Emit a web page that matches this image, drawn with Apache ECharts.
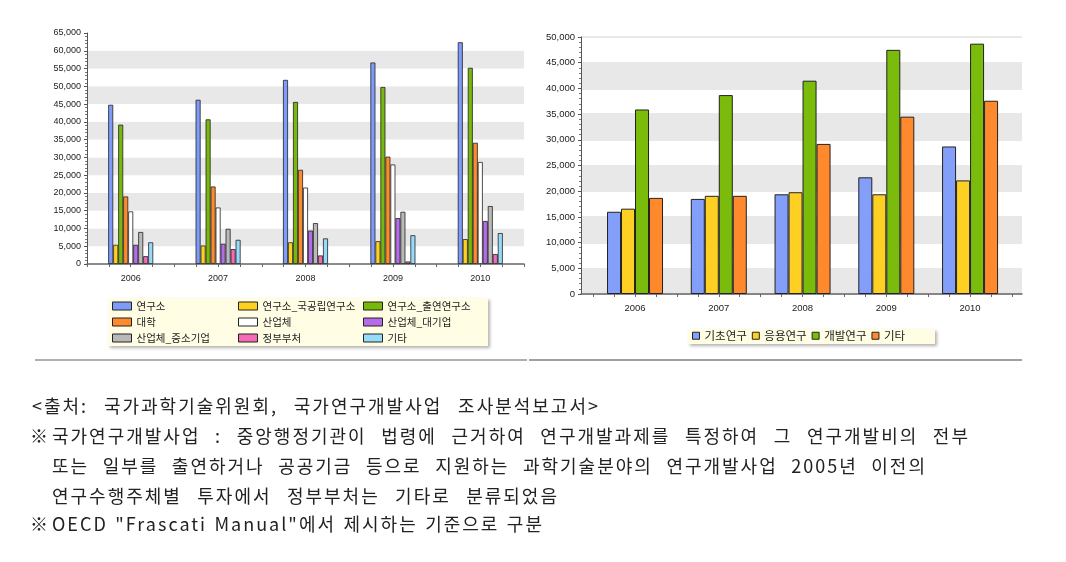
<!DOCTYPE html>
<html>
<head>
<meta charset="utf-8">
<script src="https://cdn.jsdelivr.net/npm/echarts@6/dist/echarts.min.js"></script>
<style>
  html, body { margin: 0; padding: 0; background: #fff; }
  #main { position: absolute; left: 0; top: 0; width: 1066px; height: 562px; }
  .note { position: absolute; font-family: 'Noto Sans CJK KR'; font-size: 18px; line-height: 22px;
          letter-spacing: 2px; color: #222; text-align: justify; text-align-last: justify; }
</style>
</head>
<body>
<div id="main"></div>
<!-- 출처 / 주석 -->
<div class="note" style="left:32px; top:394px; width:568px;">&lt;출처: 국가과학기술위원회, 국가연구개발사업 조사분석보고서&gt;</div>
<div class="note" style="left:30px; top:424px;">※</div>
<div class="note" style="left:52px; top:424px; width:918px;">국가연구개발사업 : 중앙행정기관이 법령에 근거하여 연구개발과제를 특정하여 그 연구개발비의 전부</div>
<div class="note" style="left:52px; top:454px; width:875px;">또는 일부를 출연하거나 공공기금 등으로 지원하는 과학기술분야의 연구개발사업 2005년 이전의</div>
<div class="note" style="left:52px; top:484px; width:507px;">연구수행주체별 투자에서 정부부처는 기타로 분류되었음</div>
<div class="note" style="left:30px; top:512px;">※</div>
<div class="note" style="left:52px; top:512px; width:492px;">OECD "Frascati Manual"에서 제시하는 기준으로 구분</div>

<script>
  // 연도
  const years = [2006, 2007, 2008, 2009, 2010];

  // 왼쪽: 연구수행주체별 (억원)
  const performerNames = ['연구소', '연구소_국공립연구소', '연구소_출연연구소', '대학', '산업체',
    '산업체_대기업', '산업체_중소기업', '정부부처', '기타'];
  const researchInst = [44800, 46200, 51800, 56700, 62400];
  const publicInst = [5400, 5200, 6100, 6400, 7000];
  const fundedInst = [39200, 40700, 45600, 49800, 55200];
  const university = [19000, 21800, 26500, 30200, 34100];
  const industry = [14800, 15900, 21500, 28000, 28700];
  const largeFirm = [5400, 5700, 9400, 12900, 12100];
  const smallFirm = [9000, 9900, 11500, 14700, 16300];
  const government = [2200, 4200, 2400, 700, 2800];
  const otherPerformer = [6100, 6800, 7200, 8100, 8700];
  const performerValues = [researchInst, publicInst, fundedInst, university, industry,
    largeFirm, smallFirm, government, otherPerformer];
  const performerColors = ['#7f9bfa', '#ffd020', '#78b80c', '#ff8a2e', '#ffffff',
    '#b46cea', '#b9b9b9', '#f46ab6', '#96dcfa'];

  // 오른쪽: 연구개발단계별
  const stageNames = ['기초연구', '응용연구', '개발연구', '기타'];
  const basicRes = [16000, 18500, 19400, 22700, 28700];
  const appliedRes = [16600, 19100, 19800, 19400, 22100];
  const develRes = [35900, 38700, 41500, 47500, 48700];
  const otherStage = [18700, 19100, 29200, 34500, 37600];
  const stageValues = [basicRes, appliedRes, develRes, otherStage];
  const stageColors = ['#849ffa', '#ffd024', '#7bbb0c', '#ff8a2e'];

  // x축 작은 눈금 (1/4 간격)
  const quarterTicks = [];
  for (let t = 2005.5; t <= 2010.5; t += 0.25) quarterTicks.push(t);

  const pairs = vals => years.map((y, i) => [y, vals[i]]);

  let myChart = echarts.init(document.getElementById('main'));

  const leftSeries = performerNames.map((name, k) => ({
    name: name,
    type: 'bar',
    xAxisIndex: 0,
    yAxisIndex: 0,
    barWidth: 5,
    barGap: '0%',
    itemStyle: { color: performerColors[k], borderColor: '#222', borderWidth: 0.8 },
    data: pairs(performerValues[k])
  }));
  const rightSeries = stageNames.map((name, k) => ({
    name: name,
    type: 'bar',
    xAxisIndex: 1,
    yAxisIndex: 1,
    barWidth: 14,
    barGap: '0%',
    itemStyle: { color: stageColors[k], borderColor: '#222', borderWidth: 1 },
    data: pairs(stageValues[k])
  }));

  const yLabel = { fontSize: 9, color: '#222', fontFamily: 'Liberation Sans', margin: 6 };
  const xLabel = { fontSize: 9, color: '#222', fontFamily: 'Liberation Sans', customValues: years,
    formatter: v => String(v) };
  const legendCommon = {
    orient: 'vertical', padding: 0, itemGap: 0, itemWidth: 19, itemHeight: 8,
    icon: 'rect', selectedMode: false,
    itemStyle: { borderColor: '#222', borderWidth: 1 },
    textStyle: { fontSize: 10.5, color: '#222', fontFamily: 'Noto Sans CJK KR', lineHeight: 16 }
  };

  myChart.setOption({
    animation: false,
    grid: [
      { left: 87, top: 33, width: 437, height: 231 },
      { left: 581, top: 37, width: 441, height: 257 }
    ],
    xAxis: [
      {
        type: 'value', gridIndex: 0, min: 2005.5, max: 2010.5,
        axisLine: { lineStyle: { color: '#666', width: 1.5 } },
        axisTick: { customValues: quarterTicks, length: 3, lineStyle: { color: '#666' } },
        axisLabel: Object.assign({ margin: 10 }, xLabel),
        splitLine: { show: false }
      },
      {
        type: 'value', gridIndex: 1, min: 2005.355, max: 2010.62,
        axisLine: { lineStyle: { color: '#666', width: 1.5 } },
        axisTick: { customValues: quarterTicks, length: 3, lineStyle: { color: '#666' } },
        axisLabel: Object.assign({ margin: 9 }, xLabel, { fontSize: 9.5 }),
        splitLine: { show: false }
      }
    ],
    yAxis: [
      {
        type: 'value', gridIndex: 0, min: 0, max: 65000, interval: 5000,
        axisLine: { show: true, lineStyle: { color: '#555' } },
        axisTick: { show: true, length: 3 },
        minorTick: { show: true, splitNumber: 5, length: 2, lineStyle: { color: '#777' } },
        axisLabel: yLabel,
        splitLine: { show: false },
        splitArea: { show: true, areaStyle: { color: ['#ffffff', '#e8e8e8'] } }
      },
      {
        type: 'value', gridIndex: 1, min: 0, max: 50000, interval: 5000,
        axisLine: { show: true, lineStyle: { color: '#555' } },
        axisTick: { show: true, length: 3 },
        minorTick: { show: true, splitNumber: 5, length: 2, lineStyle: { color: '#777' } },
        axisLabel: Object.assign({}, yLabel, { fontSize: 9.5 }),
        splitLine: { show: true, lineStyle: { color: '#e8e8e8', width: 2 } },
        splitArea: { show: true, areaStyle: { color: ['#e8e8e8', '#ffffff'] } }
      }
    ],
    legend: [
      Object.assign({}, legendCommon, { left: 112, top: 298, data: ['연구소', '대학', '산업체_중소기업'] }),
      Object.assign({}, legendCommon, { left: 238, top: 298, data: ['연구소_국공립연구소', '산업체', '정부부처'] }),
      Object.assign({}, legendCommon, { left: 363, top: 298, data: ['연구소_출연연구소', '산업체_대기업',
        { name: '기타', itemStyle: { color: performerColors[8] } }] }),
      {
        orient: 'horizontal', left: 692, top: 330, padding: 0, itemGap: 5, itemWidth: 7, itemHeight: 7,
        icon: 'rect', selectedMode: false,
        itemStyle: { borderColor: '#222', borderWidth: 1 },
        textStyle: { fontSize: 11.5, color: '#222', fontFamily: 'Noto Sans CJK KR' },
        data: stageNames.map((n, k) => ({ name: n, itemStyle: { color: stageColors[k] } }))
      }
    ],
    graphic: [
      { type: 'rect', z: -1, shape: { x: 108, y: 298, width: 380, height: 48 },
        style: { fill: '#fffde4', shadowBlur: 3, shadowOffsetX: 2, shadowOffsetY: 2, shadowColor: 'rgba(0,0,0,0.3)' } },
      { type: 'rect', z: -1, shape: { x: 688, y: 329, width: 247, height: 15 },
        style: { fill: '#fffde4', shadowBlur: 3, shadowOffsetX: 2, shadowOffsetY: 2, shadowColor: 'rgba(0,0,0,0.3)' } },
      { type: 'line', shape: { x1: 35, y1: 360, x2: 527, y2: 360 }, style: { stroke: '#b0b0b0', lineWidth: 2 } },
      { type: 'line', shape: { x1: 529, y1: 360, x2: 1022, y2: 360 }, style: { stroke: '#a0a0a0', lineWidth: 2 } }
    ],
    series: leftSeries.concat(rightSeries)
  });
</script>
</body>
</html>
